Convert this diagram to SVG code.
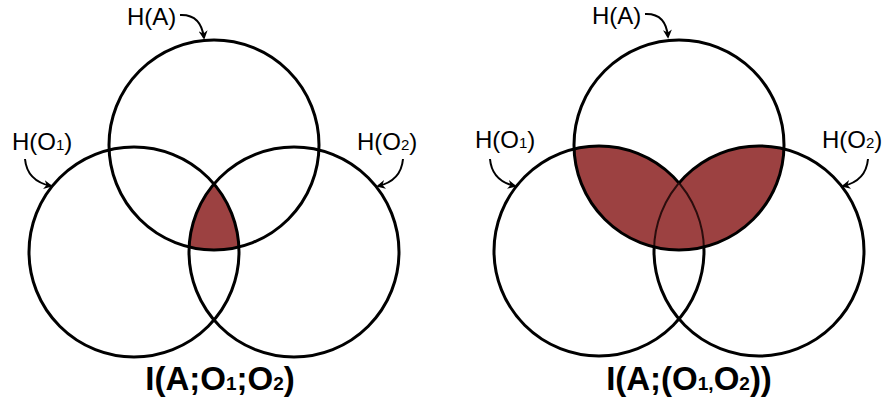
<svg xmlns="http://www.w3.org/2000/svg" width="883" height="400" viewBox="0 0 883 400">
  <style>
    .set { fill: none; stroke: #000; stroke-width: 3; }
    .shade { fill: #9c4141; stroke: none; }
    .inner { fill: none; stroke: #2b0d0d; stroke-width: 2; }
    .lbl { font-family: "Liberation Sans", Arial, sans-serif; font-size: 24px; fill: #000; }
    .sub { font-size: 15px; }
    .title { font-family: "Liberation Sans", Arial, sans-serif; font-size: 33px; font-weight: bold; fill: #000; text-anchor: middle; }
    .tsub { font-size: 19px; }
    .arrow { fill: none; stroke: #000; stroke-width: 2; marker-end: url(#head); }
  </style>
  <defs>
    <marker id="head" viewBox="0 0 10 10" refX="8" refY="5" markerWidth="9" markerHeight="9" markerUnits="userSpaceOnUse" orient="auto">
      <path d="M0,0 L10,5 L0,10 L3,5 Z" fill="#000"/>
    </marker>
    <!-- left panel discs -->
    <clipPath id="cLA"><circle cx="214" cy="145" r="105"/></clipPath>
    <clipPath id="cLO1"><circle cx="134" cy="252" r="105"/></clipPath>
    <!-- right panel discs -->
    <clipPath id="cRA"><circle cx="679" cy="145" r="105"/></clipPath>
    <clipPath id="cRO1"><circle cx="599" cy="251" r="105"/></clipPath>
    <clipPath id="cRO2"><circle cx="759" cy="251" r="105"/></clipPath>
    <clipPath id="cRU">
      <circle cx="599" cy="251" r="105"/>
      <circle cx="759" cy="251" r="105"/>
    </clipPath>
    <!-- hide the parts of each lower circle that run through the shaded overlap -->
    <mask id="mRO1" maskUnits="userSpaceOnUse" x="0" y="0" width="883" height="400">
      <rect x="0" y="0" width="883" height="400" fill="#fff"/>
      <g clip-path="url(#cRA)"><circle cx="759" cy="251" r="105" fill="#000"/></g>
    </mask>
    <mask id="mRO2" maskUnits="userSpaceOnUse" x="0" y="0" width="883" height="400">
      <rect x="0" y="0" width="883" height="400" fill="#fff"/>
      <g clip-path="url(#cRA)"><circle cx="599" cy="251" r="105" fill="#000"/></g>
    </mask>
  </defs>

  <!-- shaded regions -->
  <g id="shading">
    <g clip-path="url(#cLA)">
      <g clip-path="url(#cLO1)">
        <circle class="shade" cx="294" cy="252" r="105"/>
      </g>
    </g>
    <g clip-path="url(#cRU)">
      <circle class="shade" cx="679" cy="145" r="105"/>
    </g>
  </g>

  <!-- left panel: I(A;O1;O2) -->
  <g id="left-A"><circle class="set" cx="214" cy="145" r="105"/></g>
  <g id="left-O1"><circle class="set" cx="134" cy="252" r="105"/></g>
  <g id="left-O2"><circle class="set" cx="294" cy="252" r="105"/></g>

  <!-- right panel: I(A;(O1,O2)) -->
  <g id="right-O1">
    <circle class="set" cx="599" cy="251" r="105" mask="url(#mRO1)"/>
    <g clip-path="url(#cRA)"><g clip-path="url(#cRO2)"><circle class="inner" cx="599" cy="251" r="105"/></g></g>
  </g>
  <g id="right-O2">
    <circle class="set" cx="759" cy="251" r="105" mask="url(#mRO2)"/>
    <g clip-path="url(#cRA)"><g clip-path="url(#cRO1)"><circle class="inner" cx="759" cy="251" r="105"/></g></g>
  </g>
  <g id="right-A"><circle class="set" cx="679" cy="145" r="105"/></g>

  <!-- label pointers -->
  <g id="connectors">
    <path class="arrow" d="M180,15 Q201,14 204,38"/>
    <path class="arrow" d="M25,159 Q27,181 51,186"/>
    <path class="arrow" d="M403,159 Q401,181 378,186"/>
    <path class="arrow" d="M645,14 Q666,13 668,37"/>
    <path class="arrow" d="M490,159 Q492,181 515,186"/>
    <path class="arrow" d="M868,159 Q866,181 843,186"/>
  </g>

  <!-- set labels -->
  <g id="labels">
    <text class="lbl" x="127" y="25">H(A)</text>
    <text class="lbl" x="12" y="150">H(O<tspan class="sub">1</tspan>)</text>
    <text class="lbl" x="357" y="150">H(O<tspan class="sub">2</tspan>)</text>
    <text class="lbl" x="592" y="24">H(A)</text>
    <text class="lbl" x="475" y="148">H(O<tspan class="sub">1</tspan>)</text>
    <text class="lbl" x="822" y="148">H(O<tspan class="sub">2</tspan>)</text>
  </g>

  <!-- panel titles -->
  <g id="titles">
    <text class="title" x="220" y="390">I(A;O<tspan class="tsub">1</tspan>;O<tspan class="tsub">2</tspan>)</text>
    <text class="title" x="689" y="390">I(A;(O<tspan class="tsub">1,</tspan>O<tspan class="tsub">2</tspan>))</text>
  </g>
</svg>
